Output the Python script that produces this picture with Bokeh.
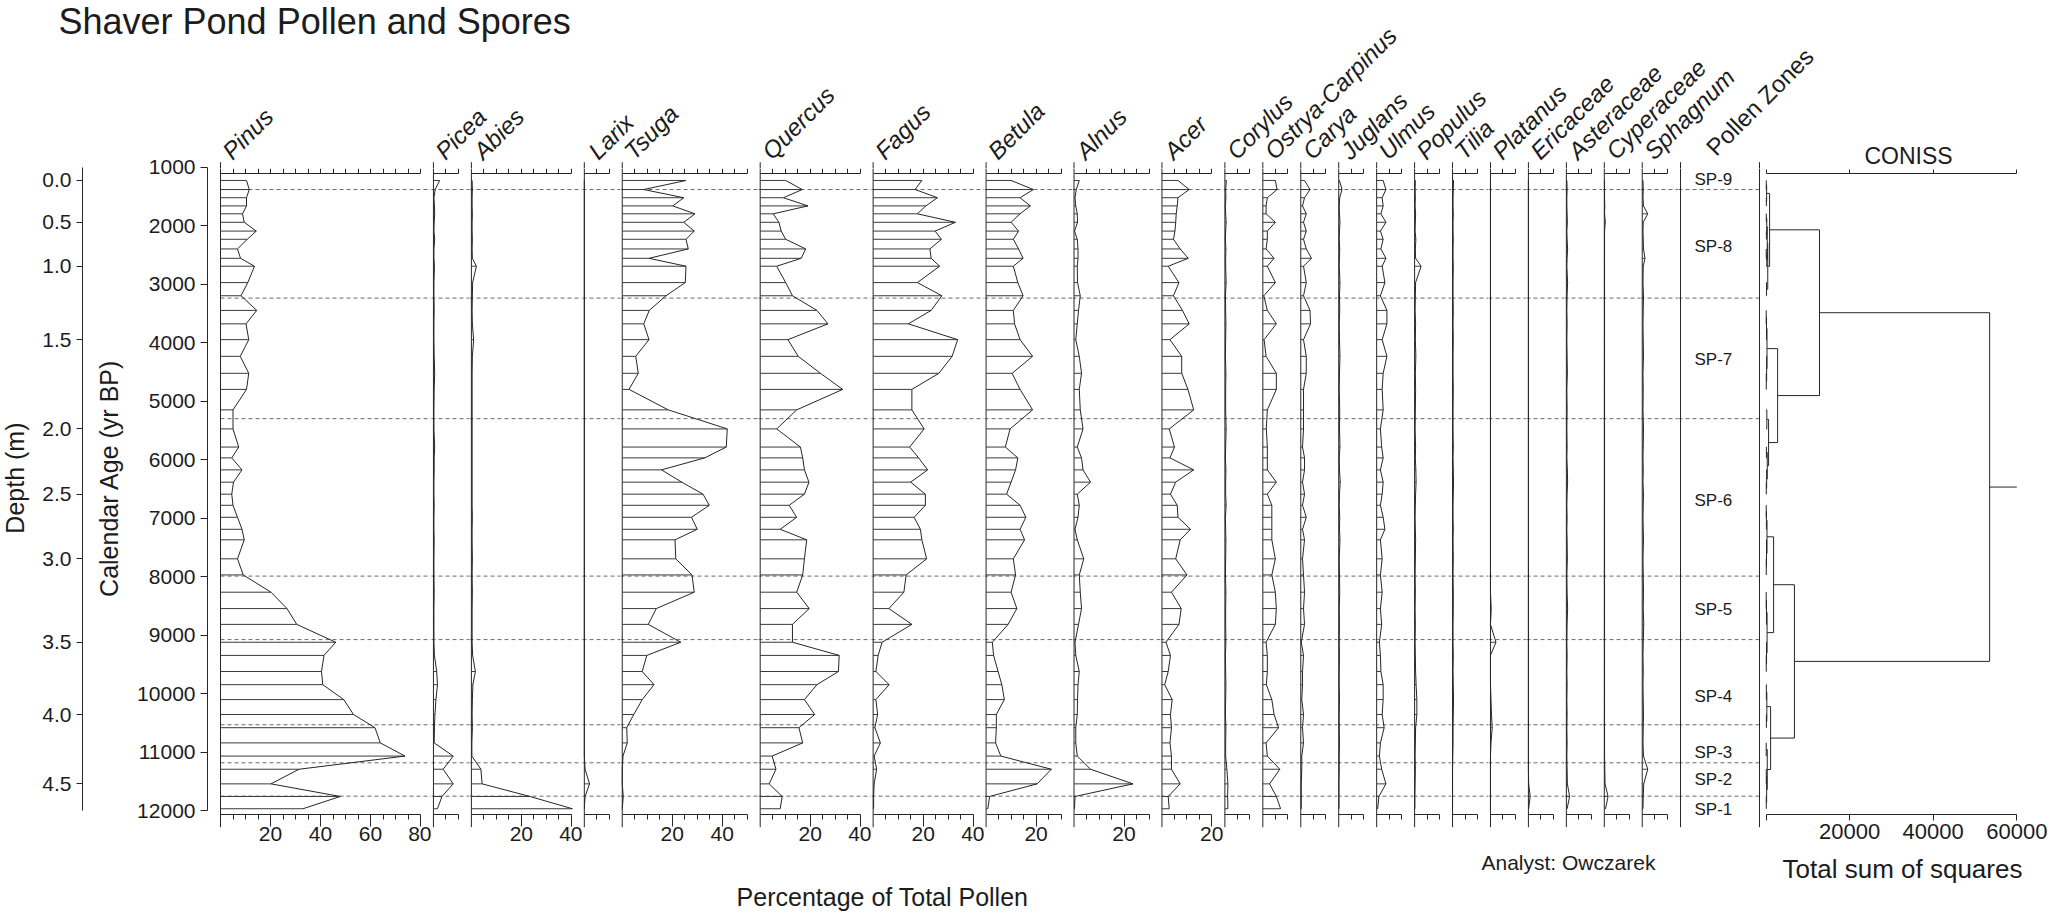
import math
from bokeh.plotting import figure
from bokeh.models import Range1d, LinearAxis, FixedTicker
from bokeh.layouts import row, column
from bokeh.core.properties import value
from bokeh.embed import file_html
from bokeh.resources import INLINE

# ---------------- core samples ----------------
depth_m = [0.0, 0.1, 0.2, 0.3, 0.4, 0.5, 0.6, 0.7, 0.8, 0.9,
           1.0, 1.1, 1.2, 1.3, 1.4, 1.5, 1.6, 1.7, 1.8, 1.9,
           2.0, 2.1, 2.2, 2.3, 2.4, 2.5, 2.6, 2.7, 2.8, 2.9,
           3.0, 3.1, 3.2, 3.3, 3.4, 3.5, 3.6, 3.7, 3.8, 3.9,
           4.0, 4.1, 4.2, 4.3, 4.4, 4.5, 4.6, 4.7]
age_bp = [1230, 1385, 1525, 1665, 1800, 1945, 2095, 2235, 2400, 2560,
          2695, 2975, 3200, 3450, 3680, 3950, 4235, 4525, 4800, 5150,
          5475, 5785, 5970, 6175, 6385, 6590, 6780, 6985, 7190, 7370,
          7695, 7970, 8265, 8545, 8815, 9120, 9345, 9620, 9845, 10100,
          10355, 10580, 10840, 11065, 11290, 11540, 11755, 11965]

taxa = ["Pinus", "Picea", "Abies", "Larix", "Tsuga", "Quercus", "Fagus", "Betula",
        "Alnus", "Acer", "Corylus", "Ostrya-Carpinus", "Carya", "Juglans", "Ulmus",
        "Populus", "Tilia", "Platanus", "Ericaceae", "Asteraceae", "Cyperaceae", "Sphagnum"]
axis_max = [80, 10, 40, 10, 50, 40, 40, 30, 30, 20, 10, 10, 10, 10, 10, 10, 10, 10, 10, 10, 10, 10]

# percentages of total pollen, top of core first
pinus = [10.4, 11.5, 10.4, 10.4, 8.8, 9.5, 14.3, 10.7, 6.8, 8.0,
         13.6, 10.9, 8.2, 14.5, 10.2, 11.3, 7.9, 11.3, 10.4, 5.0,
         5.0, 7.3, 4.5, 8.6, 5.2, 4.5, 5.0, 6.8, 8.6, 9.5,
         6.8, 9.1, 20.2, 26.6, 30.5, 46.1, 41.4, 40.4, 40.9, 49.3,
         53.2, 61.8, 63.9, 73.8, 31.4, 20.2, 47.9, 33.0]
picea = [2.5, 0.7, 0.2, 0.4, 0.5, 0.3, 0.2, 0.5, 0.2, 0.2,
         0.4, 0.2, 0.2, 0.3, 0.2, 0.2, 0.3, 0.5, 0.3, 0.2,
         0.2, 0.5, 0.3, 0.3, 0.2, 0.2, 0.3, 0.2, 0.2, 0.3,
         0.2, 0.2, 0.3, 0.2, 0.2, 0.2, 0.4, 1.3, 1.6, 1.0,
         0.6, 0.4, 0.3, 7.9, 3.9, 7.9, 3.4, 1.6]
abies = [0.3, 0.4, 0.3, 0.3, 0.4, 0.3, 0.3, 0.4, 0.3, 0.4,
         2.0, 0.5, 0.4, 0.3, 0.4, 0.9, 0.4, 0.3, 0.3, 0.3,
         0.3, 0.3, 0.3, 0.3, 0.3, 0.3, 0.3, 0.4, 0.3, 0.3,
         0.4, 0.3, 0.4, 0.3, 0.3, 0.3, 0.5, 1.6, 0.6, 0.4,
         0.3, 0.4, 0.2, 0.2, 3.8, 4.3, 23.4, 40.4]
larix = [0.0, 0.0, 0.0, 0.0, 0.0, 0.0, 0.0, 0.0, 0.0, 0.0,
         0.0, 0.0, 0.0, 0.0, 0.0, 0.0, 0.0, 0.0, 0.0, 0.0,
         0.0, 0.0, 0.0, 0.0, 0.0, 0.0, 0.0, 0.0, 0.0, 0.0,
         0.0, 0.0, 0.0, 0.0, 0.0, 0.0, 0.0, 0.0, 0.0, 0.0,
         0.0, 0.0, 0.0, 0.0, 0.3, 2.1, 0.3, 0.0]
tsuga = [25.5, 8.6, 24.6, 20.2, 29.1, 24.6, 28.8, 25.5, 26.4, 10.7,
         25.5, 25.2, 17.5, 10.8, 8.6, 10.7, 5.4, 6.4, 2.7, 18.4,
         42.0, 41.6, 33.0, 15.7, 23.8, 32.3, 34.8, 27.7, 30.0, 21.1,
         21.4, 27.9, 28.8, 13.6, 10.4, 23.4, 9.8, 8.0, 12.7, 8.0,
         4.6, 1.8, 2.0, 0.3, 0.0, 0.0, 0.4, 0.0]
quercus = [10.2, 16.8, 9.3, 19.1, 5.2, 7.5, 8.4, 10.2, 18.2, 16.4,
           6.6, 10.2, 12.9, 22.7, 27.1, 11.1, 15.2, 24.1, 33.0, 14.6,
           6.6, 16.1, 17.0, 17.7, 19.5, 17.7, 11.6, 14.6, 8.0, 18.6,
           17.7, 17.0, 14.6, 19.6, 12.9, 12.9, 31.6, 31.3, 22.7, 17.7,
           21.8, 15.5, 17.0, 4.8, 6.3, 3.6, 8.8, 8.0]
fagus = [19.5, 16.8, 25.7, 21.1, 17.7, 32.9, 24.8, 27.3, 22.7, 23.2,
         26.6, 17.7, 27.5, 23.2, 14.1, 33.8, 31.6, 26.3, 15.5, 15.5,
         20.4, 14.6, 18.2, 21.8, 15.0, 20.9, 20.9, 16.4, 18.9, 19.5,
         21.4, 13.2, 12.3, 6.3, 15.5, 3.6, 2.0, 1.1, 6.4, 1.1,
         1.8, 0.7, 2.9, 0.4, 1.4, 0.4, 0.2, 0.2]
betula = [10.0, 18.9, 13.6, 17.7, 13.6, 10.0, 13.0, 10.9, 13.0, 14.8,
          10.9, 12.7, 14.8, 10.9, 11.4, 13.6, 18.6, 10.4, 13.6, 18.6,
          9.6, 7.7, 12.7, 11.8, 10.0, 8.2, 13.6, 15.9, 13.6, 15.4,
          10.9, 11.8, 10.0, 12.3, 8.8, 2.5, 3.0, 4.8, 6.3, 7.3,
          4.1, 4.1, 3.8, 5.9, 26.1, 20.4, 1.4, 0.7]
alnus = [2.1, 0.9, 0.4, 0.7, 1.3, 1.4, 0.2, 1.3, 1.6, 1.6,
         1.3, 1.4, 2.5, 1.8, 1.3, 0.7, 2.1, 3.0, 2.1, 2.5,
         3.6, 1.3, 3.0, 3.6, 6.6, 1.3, 2.1, 1.6, 0.4, 1.3,
         3.9, 2.1, 2.5, 3.0, 1.8, 0.4, 0.7, 2.1, 1.6, 1.4,
         1.3, 0.7, 0.7, 1.3, 6.6, 23.6, 0.4, 0.2]
acer = [6.4, 10.9, 6.4, 6.1, 5.7, 5.5, 5.2, 4.6, 7.3, 10.5,
        2.5, 6.8, 4.6, 8.2, 10.9, 3.2, 7.9, 7.9, 10.4, 12.7,
        2.9, 5.0, 3.2, 12.7, 5.5, 3.4, 6.1, 6.4, 11.4, 7.3,
        5.5, 10.0, 3.8, 7.7, 6.8, 1.6, 3.4, 2.5, 1.1, 4.1,
        3.4, 3.8, 3.2, 3.8, 3.8, 7.3, 2.5, 2.9]
corylus = [0.6, 0.3, 0.4, 0.2, 0.3, 0.5, 0.3, 0.2, 0.4, 0.3,
           0.3, 0.5, 0.2, 0.3, 0.4, 0.3, 0.2, 0.4, 0.3, 0.3,
           0.5, 0.3, 0.2, 0.4, 0.3, 0.3, 0.5, 0.2, 0.3, 0.4,
           0.3, 0.2, 0.4, 0.3, 0.3, 0.4, 0.2, 0.3, 0.4, 0.3,
           0.2, 0.4, 0.3, 0.3, 0.8, 1.2, 1.1, 1.2]
ostrya_carpinus = [5.0, 5.7, 1.8, 1.3, 1.3, 5.0, 1.8, 1.8, 1.3, 4.5,
                   1.8, 5.0, 0.4, 1.8, 5.4, 0.5, 1.3, 5.4, 5.4, 1.8,
                   1.4, 1.8, 1.8, 1.8, 5.4, 1.8, 3.6, 3.6, 3.6, 3.6,
                   5.0, 3.6, 5.0, 5.4, 5.0, 1.3, 1.8, 1.8, 1.4, 3.6,
                   4.5, 6.3, 1.3, 1.8, 6.8, 2.7, 5.4, 7.1]
carya = [1.5, 3.7, 1.5, 0.7, 2.2, 1.1, 2.2, 1.1, 2.2, 4.3,
         1.1, 2.2, 1.1, 3.7, 3.9, 1.1, 2.2, 2.2, 1.1, 1.1,
         1.1, 0.7, 1.5, 1.5, 0.7, 1.5, 0.7, 2.2, 0.7, 1.5,
         0.7, 1.1, 1.5, 1.1, 1.5, 0.2, 1.1, 0.7, 0.7, 0.4,
         1.1, 0.7, 1.1, 0.4, 0.4, 0.2, 0.2, 0.2]
juglans = [0.3, 1.3, 0.4, 0.2, 0.3, 0.5, 0.3, 0.2, 0.4, 0.3,
           0.2, 0.5, 0.3, 0.4, 0.2, 0.3, 0.5, 0.3, 0.2, 0.4,
           0.3, 0.5, 0.2, 0.3, 0.6, 0.3, 0.2, 0.4, 0.3, 0.5,
           0.2, 0.3, 0.4, 0.2, 0.3, 0.2, 0.3, 0.2, 0.2, 0.3,
           0.2, 0.2, 0.3, 0.2, 0.2, 0.1, 0.1, 0.1]
ulmus = [2.6, 3.7, 2.2, 2.6, 1.7, 3.7, 1.5, 2.6, 1.7, 3.7,
         2.2, 3.3, 1.5, 4.1, 4.1, 2.2, 4.1, 2.6, 2.2, 2.6,
         1.5, 2.0, 2.6, 1.5, 2.6, 2.2, 1.5, 2.6, 3.3, 1.5,
         2.2, 1.5, 2.2, 1.5, 2.0, 1.1, 1.5, 1.7, 2.6, 2.6,
         2.2, 3.0, 1.5, 1.1, 2.0, 3.7, 0.9, 0.4]
populus = [0.3, 0.2, 0.3, 0.2, 0.4, 0.3, 0.2, 0.5, 0.3, 0.4,
           2.6, 0.4, 0.3, 0.2, 0.4, 0.3, 0.5, 0.3, 0.4, 0.3,
           0.2, 0.4, 0.3, 0.5, 0.6, 0.4, 0.3, 0.2, 0.3, 0.4,
           0.3, 0.2, 0.3, 0.2, 0.3, 0.2, 0.3, 0.4, 0.6, 0.9,
           0.9, 0.4, 0.3, 0.2, 0.3, 0.2, 0.1, 0.1]
tilia = [0.4, 0.3, 0.2, 0.2, 0.3, 0.2, 0.2, 0.3, 0.2, 0.2,
         0.3, 0.2, 0.2, 0.3, 0.2, 0.3, 0.2, 0.2, 0.3, 0.2,
         0.2, 0.3, 0.2, 0.3, 0.4, 0.3, 0.2, 0.2, 0.3, 0.2,
         0.3, 0.2, 0.3, 0.3, 0.2, 0.2, 0.3, 0.2, 0.3, 0.4,
         0.3, 0.2, 0.2, 0.1, 0.0, 0.0, 0.0, 0.0]
platanus = [0.0, 0.0, 0.0, 0.0, 0.0, 0.0, 0.0, 0.0, 0.0, 0.0,
            0.0, 0.0, 0.0, 0.0, 0.0, 0.0, 0.0, 0.0, 0.0, 0.0,
            0.0, 0.0, 0.0, 0.0, 0.0, 0.0, 0.0, 0.0, 0.0, 0.0,
            0.0, 0.0, 0.0, 0.3, 0.0, 2.2, 0.0, 0.0, 0.0, 0.2,
            0.4, 0.7, 0.2, 0.0, 0.0, 0.0, 0.0, 0.0]
ericaceae = [0.0, 0.0, 0.0, 0.0, 0.0, 0.0, 0.0, 0.0, 0.0, 0.0,
             0.0, 0.0, 0.0, 0.0, 0.0, 0.0, 0.0, 0.0, 0.0, 0.0,
             0.0, 0.0, 0.0, 0.0, 0.0, 0.0, 0.0, 0.0, 0.0, 0.0,
             0.0, 0.0, 0.0, 0.0, 0.0, 0.0, 0.0, 0.0, 0.0, 0.0,
             0.0, 0.0, 0.0, 0.0, 0.0, 0.1, 0.7, 0.1]
asteraceae = [0.2, 0.3, 0.2, 0.2, 0.3, 0.4, 0.2, 0.3, 0.5, 0.3,
              0.2, 0.5, 0.3, 0.2, 0.3, 0.2, 0.3, 0.4, 0.2, 0.3,
              0.2, 0.3, 0.2, 0.4, 0.5, 0.3, 0.2, 0.3, 0.2, 0.3,
              0.4, 0.2, 0.3, 0.5, 0.3, 0.2, 0.3, 0.2, 0.3, 0.2,
              0.3, 0.2, 0.3, 0.2, 0.3, 0.4, 1.3, 0.3]
cyperaceae = [0.1, 0.1, 0.1, 0.2, 0.1, 0.4, 0.1, 0.1, 0.1, 0.1,
              0.1, 0.1, 0.1, 0.1, 0.1, 0.1, 0.1, 0.1, 0.1, 0.1,
              0.1, 0.1, 0.1, 0.1, 0.1, 0.1, 0.1, 0.1, 0.1, 0.1,
              0.1, 0.1, 0.1, 0.1, 0.1, 0.1, 0.1, 0.1, 0.1, 0.1,
              0.1, 0.1, 0.1, 0.1, 0.2, 0.3, 1.5, 0.5]
sphagnum = [0.3, 0.4, 0.3, 0.5, 2.2, 0.4, 0.3, 0.4, 0.5, 1.1,
            0.4, 0.3, 0.5, 0.4, 0.3, 0.4, 0.5, 0.3, 0.4, 0.3,
            0.5, 0.4, 0.3, 0.4, 0.3, 0.5, 0.4, 0.3, 0.4, 0.5,
            0.3, 0.4, 0.5, 0.4, 0.6, 0.4, 0.3, 0.4, 0.3, 0.4,
            0.5, 0.4, 0.3, 0.5, 2.2, 0.6, 0.4, 0.3]

percent = [pinus, picea, abies, larix, tsuga, quercus, fagus, betula, alnus, acer,
           corylus, ostrya_carpinus, carya, juglans, ulmus, populus, tilia, platanus,
           ericaceae, asteraceae, cyperaceae, sphagnum]

# pollen zones (boundaries and label positions in cal yr BP)
zone_names = ["SP-9", "SP-8", "SP-7", "SP-6", "SP-5", "SP-4", "SP-3", "SP-2", "SP-1"]
zone_label_age = [1215, 2355, 4290, 6700, 8565, 10045, 11000, 11470, 11985]
zone_bounds = [1385, 3240, 5300, 7990, 9075, 10530, 11180, 11750]

# CONISS tree: [total sum of squares, left, right]; integers are sample indices
coniss_tree = [53500,
               [12800,
                [860,
                 [150, [60, 0, 1], [80, 2, 3]],
                 [420, [300, [180, [70, 4, 5], [90, 6, 7]], [200, [60, 8, 9], 10]],
                  [130, 11, 12]]],
                [2780,
                 [240, [120, [50, 13, 14], 15], [150, 16, [60, 17, 18]]],
                 [620, [200, 19, 20], [300, [100, 21, 22], [150, 23, [70, 24, 25]]]]]],
               [6800,
                [1820,
                 [240, [100, [50, 26, 27], 28], [120, 29, [60, 30, 31]]],
                 [260, [110, [50, 32, 33], 34], [130, 35, [60, 36, 37]]]],
                [1100,
                 [200, [80, 38, 39], [90, 40, 41]],
                 [300, [50, 42, 43], [150, [70, 44, 45], [60, 46, 47]]]]]]
coniss_ticks = [0, 20000, 40000, 60000]
age_ticks = [1000, 2000, 3000, 4000, 5000, 6000, 7000, 8000, 9000, 10000, 11000, 12000]

# ---------------- layout constants (page pixels) ----------------
W, H = 2050, 913
TITLE_H = 42               # band holding the title above the left block
HEAD_H = 168               # band holding the taxon names and the CONISS heading
ROW_TOP, ROW_BOT = HEAD_H, 850
ROW_H = ROW_BOT - ROW_TOP
LEFT_W = 214
AXIS_TOP_Y, AXIS_BOT_Y = 173.3, 814.3     # page rows of the panel axes
STEM_TOP_Y, STEM_BOT_Y = 161.7, 826.7     # extent of panel base lines
PX_PER_YR = 0.058527
Y_1000 = 166.5                             # page row of the 1000 yr BP tick
PX_PER_PCT = 2.5
FIRST_LEFT, PANEL_GAP = 220.0, 12.94
ZONE_LEFT, ZONE_RIGHT = 1680.0, 1759.0
ZONE_FIG_L, CONISS_FIG_L = 1678, 1762
CONISS_X0, CONISS_PX = 1765.5, 250.8 / 60000.0
N_LEFT_PANELS = 3          # panels sharing the column with the depth/age axes

FONT = "Liberation Sans"
INK = "#1c1c1c"
LINE = "#262626"
BAR = "#3a3a3a"
DASH = "#6a6a6a"


def age_at(ypx):
    return 1000.0 + (ypx - Y_1000) / PX_PER_YR


def age_range(top, bot):
    return Range1d(start=age_at(bot), end=age_at(top))


A_TOP, A_BOT = age_at(AXIS_TOP_Y), age_at(AXIS_BOT_Y)
S_TOP, S_BOT = age_at(STEM_TOP_Y), age_at(STEM_BOT_Y)


def make_fig(w, h, xr, yr):
    return figure(width=w, height=h, x_range=xr, y_range=yr,
                  x_axis_type=None, y_axis_type=None,
                  output_backend="svg", toolbar_location=None,
                  min_border=0, outline_line_color=None,
                  background_fill_color="white", border_fill_color="white")


def band(x0, x1, y0, y1):
    """A blank figure whose data coordinates are page pixels."""
    return make_fig(x1 - x0, y1 - y0, Range1d(x0, x1), Range1d(y1, y0))


def frame_axis(p, where, loc, majors, minors, lo, hi, out_major, out_minor,
               font_px=21, standoff=0):
    ax = LinearAxis(ticker=FixedTicker(ticks=majors, minor_ticks=minors), bounds=(lo, hi),
                    fixed_location=loc,
                    major_tick_in=0, major_tick_out=out_major,
                    minor_tick_in=0, minor_tick_out=out_minor,
                    axis_line_color=LINE, major_tick_line_color=LINE,
                    minor_tick_line_color=LINE,
                    major_label_text_font=FONT, major_label_text_font_size=f"{font_px}px",
                    major_label_text_color=INK, major_label_standoff=standoff)
    p.add_layout(ax, where)


def txt(p, x, y, s, size, angle=0.0, align="left", style="normal", **kw):
    p.text(x=x, y=y, text=s, angle=angle, text_font=value(FONT),
           text_font_size=f"{size}px", text_font_style=style, text_color=INK,
           text_align=align, text_baseline="middle", **kw)


# panel positions along the page
lefts = []
pos = FIRST_LEFT
for m in axis_max:
    lefts.append(pos)
    pos += m * PX_PER_PCT + PANEL_GAP
fig_bounds = [LEFT_W] + [math.floor(l) - 1 for l in lefts[1:]] + [ZONE_FIG_L]
X_SPLIT = fig_bounds[N_LEFT_PANELS]

row_yr = age_range(ROW_TOP, ROW_BOT)

# ---------------- pollen panels ----------------
panels = []
n = len(age_bp)
nz = len(zone_bounds)
for i, (name, vals, vmax) in enumerate(zip(taxa, percent, axis_max)):
    fl, fr = fig_bounds[i], fig_bounds[i + 1]
    left = lefts[i]
    xr = Range1d((fl - left) / PX_PER_PCT, (fr - left) / PX_PER_PCT)
    p = make_fig(fr - fl, ROW_H, xr, row_yr)
    every5 = list(range(5, vmax + 1, 5))
    frame_axis(p, "above", A_TOP, [], every5, 0, vmax, 0, 5)
    frame_axis(p, "below", A_BOT, [t for t in every5 if t % 20 == 0],
               [t for t in every5 if t % 20], 0, vmax, 12, 5, font_px=21, standoff=0)
    x0 = 0 if i == 0 else xr.start
    p.segment(x0=[x0] * nz, y0=zone_bounds, x1=[xr.end] * nz, y1=zone_bounds,
              line_color=DASH, line_width=1, line_dash="4 3")
    p.segment(x0=[0], y0=[S_TOP], x1=[0], y1=[S_BOT], line_color=LINE, line_width=1)
    p.segment(x0=[0] * n, y0=age_bp, x1=vals, y1=age_bp, line_color=BAR, line_width=1)
    p.line(x=vals, y=age_bp, line_color=LINE, line_width=1)
    panels.append(p)

# ---------------- pollen zone column ----------------
zf = make_fig(CONISS_FIG_L - ZONE_FIG_L, ROW_H, Range1d(ZONE_FIG_L, CONISS_FIG_L), row_yr)
zf.segment(x0=[ZONE_FIG_L] * nz, y0=zone_bounds, x1=[ZONE_RIGHT] * nz, y1=zone_bounds,
           line_color=DASH, line_width=1, line_dash="4 3")
zf.segment(x0=[ZONE_LEFT, ZONE_RIGHT], y0=[S_TOP, S_TOP], x1=[ZONE_LEFT, ZONE_RIGHT],
           y1=[S_BOT, S_BOT], line_color=LINE, line_width=1)
txt(zf, [1694] * len(zone_names), zone_label_age, zone_names, 17)

# ---------------- CONISS dendrogram ----------------
cf = make_fig(W - CONISS_FIG_L, ROW_H,
              Range1d((CONISS_FIG_L - CONISS_X0) / CONISS_PX, (W - CONISS_X0) / CONISS_PX),
              row_yr)
frame_axis(cf, "above", A_TOP, [], coniss_ticks, 0, coniss_ticks[-1], 0, 4)
frame_axis(cf, "below", A_BOT, coniss_ticks[1:], coniss_ticks[:1], 0, coniss_ticks[-1],
           6, 6, font_px=22, standoff=3)

sx0, sy0, sx1, sy1 = [], [], [], []


def place(node):
    if isinstance(node, int):
        return age_bp[node], 0.0
    h, left, right = node
    yl, hl = place(left)
    yr, hr = place(right)
    sx0.extend([h, hl, hr]); sx1.extend([h, h, h])
    sy0.extend([yl, yl, yr]); sy1.extend([yr, yl, yr])
    return (yl + yr) / 2.0, h


root_y, root_h = place(coniss_tree)
sx0.append(root_h); sx1.append(coniss_ticks[-1]); sy0.append(root_y); sy1.append(root_y)
cf.segment(x0=sx0, y0=sy0, x1=sx1, y1=sy1, line_color=LINE, line_width=1)

# ---------------- depth and age axes ----------------
side_yr = age_range(TITLE_H, H)
fig_e = band(0, 30, TITLE_H, H)
txt(fig_e, [14.5], [477.6], ["Depth (m)"], 25, angle=math.pi / 2, align="center")

depth_tick_age = [a for a, d in zip(age_bp, depth_m) if round(d * 10) % 5 == 0]
depth_tick_lab = [f"{d:.1f}" for d in depth_m if round(d * 10) % 5 == 0]
fig_d = make_fig(100, H - TITLE_H, Range1d(82, 130), side_yr)
fig_d.min_border_left = 52
fig_d.extra_y_ranges = {"px": Range1d(H, TITLE_H)}
fig_d.add_layout(LinearAxis(ticker=FixedTicker(ticks=depth_tick_age), bounds=(1000, 12000),
                            major_tick_in=0, major_tick_out=6, minor_tick_out=0,
                            axis_line_color=LINE, major_tick_line_color=LINE,
                            major_label_text_font=FONT, major_label_text_font_size="21px",
                            major_label_text_color=INK, major_label_standoff=5,
                            major_label_overrides=dict(zip(depth_tick_age, depth_tick_lab))),
                 "left")
txt(fig_d, [108], [477.6], ["Calendar Age (yr BP)"], 25, angle=math.pi / 2,
    align="center", y_range_name="px")

fig_a = make_fig(84, H - TITLE_H, Range1d(0, 1), side_yr)
fig_a.min_border_left = 77
fig_a.add_layout(LinearAxis(ticker=FixedTicker(ticks=age_ticks), bounds=(1000, 12000),
                            major_tick_in=0, major_tick_out=7, minor_tick_out=0,
                            axis_line_color=LINE, major_tick_line_color=LINE,
                            major_label_text_font=FONT, major_label_text_font_size="21px",
                            major_label_text_color=INK, major_label_standoff=5),
                 "left")

# ---------------- heading bands ----------------
title_band = band(0, X_SPLIT, 0, TITLE_H)
txt(title_band, [58], [20.5], ["Shaver Pond Pollen and Spores"], 36)

names_left = band(LEFT_W, X_SPLIT, TITLE_H, HEAD_H)
names_right = band(X_SPLIT, W, 0, HEAD_H)
label_x = [max(l + 6, X_SPLIT + 10) if i >= N_LEFT_PANELS else l + 6
           for i, l in enumerate(lefts)]
txt(names_left, label_x[:N_LEFT_PANELS], [154.5] * N_LEFT_PANELS, taxa[:N_LEFT_PANELS], 24,
    angle=math.pi / 4, style="italic")
txt(names_right, label_x[N_LEFT_PANELS:], [154.5] * (len(taxa) - N_LEFT_PANELS),
    taxa[N_LEFT_PANELS:], 24, angle=math.pi / 4, style="italic")
txt(names_right, [1709.7], [150.8], ["Pollen Zones"], 24, angle=math.pi / 4)
txt(names_right, [1908], [155], ["CONISS"], 23, align="center")

# tops of the panel base lines, above the plotting rows
stem_x = lefts + [ZONE_LEFT, ZONE_RIGHT]
for bnd, xs in ((names_left, stem_x[:N_LEFT_PANELS]), (names_right, stem_x[N_LEFT_PANELS:])):
    bnd.segment(x0=xs, y0=[STEM_TOP_Y] * len(xs), x1=xs, y1=[HEAD_H] * len(xs),
                line_color=LINE, line_width=1)

# ---------------- footer bands ----------------
foot_left = band(LEFT_W, X_SPLIT, ROW_BOT, H)
foot_right = band(X_SPLIT, W, ROW_BOT, H)
txt(foot_right, [882], [896], ["Percentage of Total Pollen"], 25, align="center")
txt(foot_right, [1481], [862], ["Analyst:  Owczarek"], 21)
txt(foot_right, [1902], [868], ["Total sum of squares"], 26, align="center")

# ---------------- assemble ----------------
left_col = column(
    title_band,
    row(fig_e, fig_d, fig_a,
        column(names_left, row(panels[:N_LEFT_PANELS], spacing=0), foot_left, spacing=0),
        spacing=0),
    spacing=0)
right_col = column(names_right, row(panels[N_LEFT_PANELS:] + [zf, cf], spacing=0),
                   foot_right, spacing=0)
layout = row(left_col, right_col, spacing=0)

with open("out.html", "w") as f:
    f.write(file_html(layout, INLINE, "Shaver Pond Pollen and Spores"))
